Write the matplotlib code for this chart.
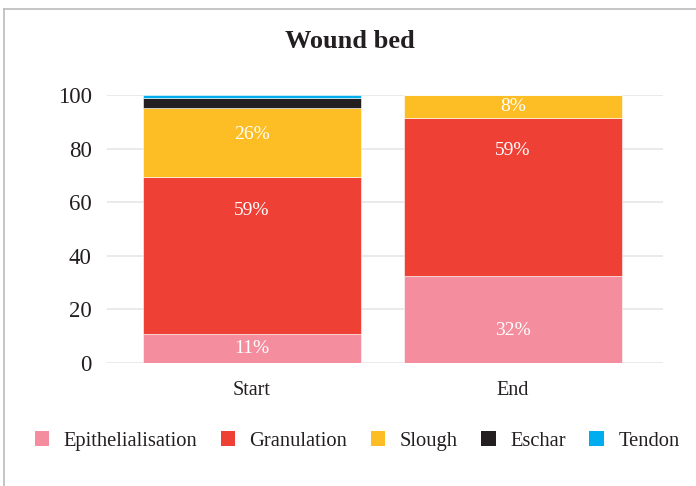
import matplotlib
matplotlib.use("Agg")
import matplotlib.pyplot as plt
from matplotlib.lines import Line2D
from matplotlib.patches import Patch
import numpy as np

plt.rcParams['font.family'] = ['Liberation Serif', 'DejaVu Serif']

categories = ["Start", "End"]
series_names = ["Epithelialisation", "Granulation", "Slough", "Eschar", "Tendon"]
epithelialisation = [10.8, 32.4]
granulation = [58.6, 59.3]
slough = [25.8, 8.3]
eschar = [3.9, 0.0]
tendon = [0.9, 0.0]
label_epi = ["11%", "32%"]
label_gran = ["59%", "59%"]
label_slough = ["26%", "8%"]
yticks = [0, 20, 40, 60, 80, 100]

# label placement within each segment (fraction of segment height from its bottom)
pos_epi = [0.5, 0.37]
pos_gran = [0.785, 0.79]
pos_slough = [0.62, 0.5]

colors = ["#F48E9F", "#EE4035", "#FDBD24", "#231F20", "#00AEEF"]
series = [epithelialisation, granulation, slough, eschar, tendon]
labels = [label_epi, label_gran, label_slough, None, None]
positions = [pos_epi, pos_gran, pos_slough, None, None]

fig = plt.figure(figsize=(6.96, 4.86), dpi=100)
ax = fig.add_axes([107/696, 1 - 363/486, (663-107)/696, (363-95.3)/486])

x = np.arange(len(categories))
bottom = np.zeros(len(categories))
for vals, col, labs, pos, name in zip(series, colors, labels, positions, series_names):
    vals = np.array(vals)
    ax.bar(x, vals, width=0.835, bottom=bottom, color=col, label=name,
           edgecolor='white', linewidth=0.4, zorder=3)
    if labs is not None:
        for xi, v, b, lab, p in zip(x, vals, bottom, labs, pos):
            ax.text(xi, b + v*p, lab, ha='center', va='center', color='white',
                    fontsize=14, zorder=4)
    bottom += vals

ax.set_xlim(-0.555, 1.575)
ax.set_ylim(0, 100)
ax.set_yticks(yticks)
ax.set_xticks(x)
ax.set_xticklabels(categories, fontsize=14.5, color='#231F20')
ax.tick_params(axis='y', labelsize=16.5, length=0, pad=11, colors='#231F20')
ax.tick_params(axis='x', length=0, pad=13)
ax.grid(axis='y', color='#E6E6E6', linewidth=1.2, zorder=0)
for s in ax.spines.values():
    s.set_visible(False)

fig.text(350/696, 1 - 42/486, "Wound bed", ha='center', va='center',
         fontsize=19, fontweight='bold', color='#231F20')

handles = [Patch(facecolor=c, edgecolor='none') for c in colors]
fig.legend(handles, series_names, loc='center', bbox_to_anchor=(357/696, 1 - 441/486),
           ncol=5, frameon=False, fontsize=14.8, handlelength=0.7, handleheight=0.7,
           handletextpad=0.7, columnspacing=1.15, labelcolor='#231F20')

fig.add_artist(Line2D([4/696, 4/696], [0, 1 - 9/486], transform=fig.transFigure,
                      color='#BBBBBB', linewidth=1.2))
fig.add_artist(Line2D([4/696, 1], [1 - 9/486, 1 - 9/486], transform=fig.transFigure,
                      color='#BBBBBB', linewidth=1.2))

fig.savefig("out.png", dpi=100)
